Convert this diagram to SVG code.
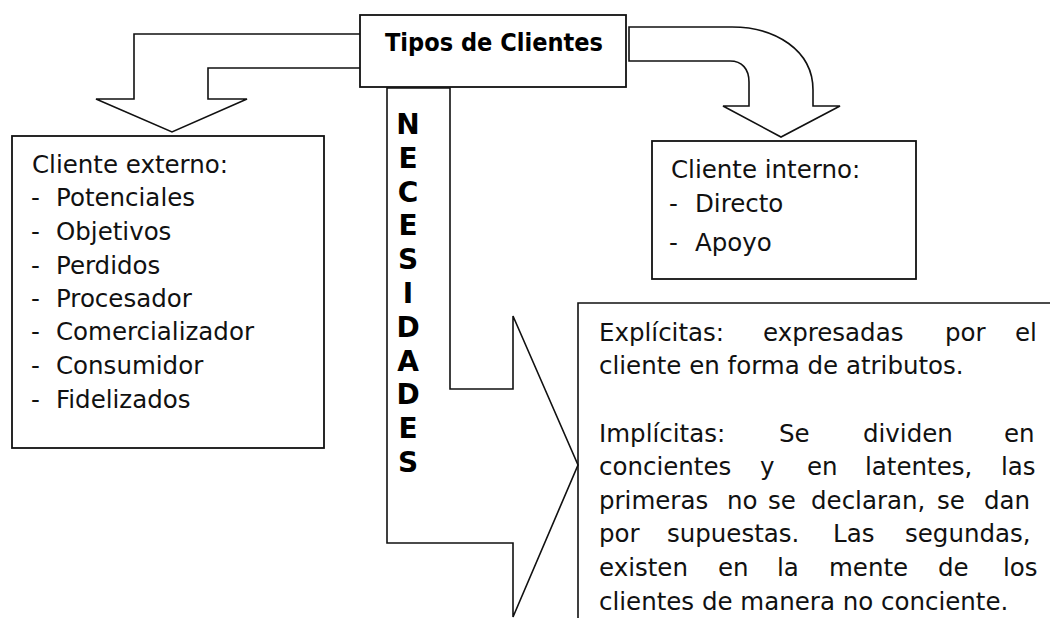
<svg xmlns="http://www.w3.org/2000/svg" width="1050" height="618" viewBox="0 0 1050 618">
<style>
.ln{fill:none;stroke:#111;stroke-width:1.6;stroke-linejoin:miter}
.bx{fill:#fff;stroke:#111;stroke-width:1.8}
.t{font-family:"DejaVu Sans","Liberation Sans",sans-serif;font-size:24.5px;fill:#111}
.b{font-family:"DejaVu Sans","Liberation Sans",sans-serif;font-weight:bold;fill:#000}
</style>
<rect width="1050" height="618" fill="#fff"/>
<g id="connectors">
  <path id="arrow-externo" class="ln" d="M360,34 H134 V99 H96 L172,132 L247,99 H208 V68 H360"/>
  <path id="arrow-interno" class="ln" d="M629,27 H732 C775,27 813,50 813,90 V106 H840 L781,137 L723,106 H749 V82 C749,69 742,61 730,61 H629 Z"/>
  <path id="arrow-necesidades" class="ln" d="M387,88 H450 V389 H513 V316 L578,465 L513,617 V543 H387 Z"/>
</g>
<g id="title">
  <rect class="bx" x="360" y="15" width="266" height="72"/>
  <text class="b" x="385" y="51" font-size="24" textLength="218" lengthAdjust="spacingAndGlyphs">Tipos de Clientes</text>
</g>
<g id="label-necesidades" class="b" font-size="28" text-anchor="middle">
  <text x="408" y="134">N</text>
  <text x="408" y="168">E</text>
  <text x="408" y="202">C</text>
  <text x="408" y="235">E</text>
  <text x="408" y="269">S</text>
  <text x="408" y="303">I</text>
  <text x="408" y="337">D</text>
  <text x="408" y="371">A</text>
  <text x="408" y="404">D</text>
  <text x="408" y="438">E</text>
  <text x="408" y="472">S</text>
</g>
<g id="cliente-externo">
  <rect class="bx" x="12" y="136" width="312" height="312"/>
  <text class="t" x="32" y="173">Cliente externo:</text>
  <text class="t" y="206"><tspan x="31">-</tspan><tspan x="56">Potenciales</tspan></text>
  <text class="t" y="240"><tspan x="31">-</tspan><tspan x="56">Objetivos</tspan></text>
  <text class="t" y="274"><tspan x="31">-</tspan><tspan x="56">Perdidos</tspan></text>
  <text class="t" y="307"><tspan x="31">-</tspan><tspan x="56">Procesador</tspan></text>
  <text class="t" y="340"><tspan x="31">-</tspan><tspan x="56">Comercializador</tspan></text>
  <text class="t" y="374"><tspan x="31">-</tspan><tspan x="56">Consumidor</tspan></text>
  <text class="t" y="408"><tspan x="31">-</tspan><tspan x="56">Fidelizados</tspan></text>
</g>
<g id="cliente-interno">
  <rect class="bx" x="652" y="141" width="264" height="138"/>
  <text class="t" x="671" y="178">Cliente interno:</text>
  <text class="t" y="212"><tspan x="669">-</tspan><tspan x="695">Directo</tspan></text>
  <text class="t" y="251"><tspan x="669">-</tspan><tspan x="695">Apoyo</tspan></text>
</g>
<g id="necesidades">
  <path class="ln" d="M1052,303 H578 V620" stroke-width="1.8"/>
  <text class="t" y="341"><tspan x="599">Explícitas:</tspan><tspan x="763">expresadas</tspan><tspan x="945">por</tspan><tspan x="1015">el</tspan></text>
  <text class="t" x="599" y="374">cliente en forma de atributos.</text>
  <text class="t" y="442"><tspan x="599">Implícitas:</tspan><tspan x="779">Se</tspan><tspan x="863">dividen</tspan><tspan x="1004">en</tspan></text>
  <text class="t" y="475"><tspan x="599">concientes</tspan><tspan x="760">y</tspan><tspan x="807">en</tspan><tspan x="865">latentes,</tspan><tspan x="1001">las</tspan></text>
  <text class="t" y="509"><tspan x="599">primeras</tspan><tspan x="727">no</tspan><tspan x="768">se</tspan><tspan x="811">declaran,</tspan><tspan x="937">se</tspan><tspan x="984">dan</tspan></text>
  <text class="t" y="542"><tspan x="599">por</tspan><tspan x="667">supuestas.</tspan><tspan x="833">Las</tspan><tspan x="905">segundas,</tspan></text>
  <text class="t" y="576"><tspan x="599">existen</tspan><tspan x="718">en</tspan><tspan x="777">la</tspan><tspan x="829">mente</tspan><tspan x="938">de</tspan><tspan x="1003">los</tspan></text>
  <text class="t" x="599" y="610">clientes de manera no conciente.</text>
</g>
</svg>
